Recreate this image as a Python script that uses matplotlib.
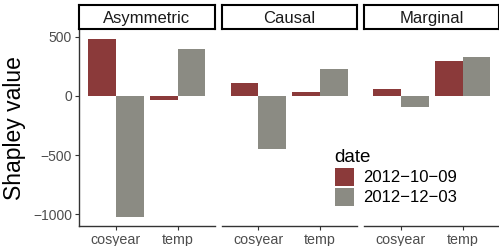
import matplotlib
matplotlib.use("Agg")
import matplotlib.pyplot as plt
from matplotlib.patches import Patch
import numpy as np

plt.rcParams['font.family'] = ['Liberation Sans', 'DejaVu Sans']

methods = ["Asymmetric", "Causal", "Marginal"]
features = ["cosyear", "temp"]
dates = ["2012\u221210\u221209", "2012\u221212\u221203"]
colors = ["#8B3A3A", "#8B8B83"]
# values[method][date] -> [cosyear, temp]
asym_d1 = [481, -34]
asym_d2 = [-1023, 397]
causal_d1 = [110, 34]
causal_d2 = [-445, 228]
marg_d1 = [59, 296]
marg_d2 = [-93, 330]
values = [[asym_d1, asym_d2], [causal_d1, causal_d2], [marg_d1, marg_d2]]
yticks = [500, 0, -500, -1000]
ytick_labels = ["500", "0", "\u2212500", "\u22121000"]

W, H = 499, 246
fig = plt.figure(figsize=(W / 100, H / 100), dpi=100)

def fx(px):
    return px / W

def fy(py):
    return 1 - py / H

panel_left = [79, 221.5, 364]
panel_w = 135.5
ptop, pbot = 30, 226
stop, sbot = 5, 29

ylim = (-1098, 556)
bw = 0.45
for i, m in enumerate(methods):
    ax = fig.add_axes([fx(panel_left[i]), fy(pbot), fx(panel_w), (pbot - ptop) / H])
    x = np.arange(1, len(features) + 1)
    for j in range(2):
        ax.bar(x + (j - 0.5) * bw, values[i][j], width=bw, color=colors[j], linewidth=0)
    ax.set_xlim(0.4, 2.6)
    ax.set_ylim(*ylim)
    ax.set_xticks(x)
    ax.set_xticklabels(features, fontsize=10.3, color="#4D4D4D")
    for s in ["top", "right"]:
        ax.spines[s].set_visible(False)
    ax.spines["bottom"].set_color("#333333")
    ax.spines["bottom"].set_linewidth(1.0)
    ax.tick_params(axis="x", length=3, width=0.8, color="#333333", pad=2)
    if i == 0:
        ax.spines["left"].set_color("#333333")
        ax.spines["left"].set_linewidth(1.0)
        ax.set_yticks(yticks)
        ax.set_yticklabels(ytick_labels, fontsize=10, color="#4D4D4D")
        ax.tick_params(axis="y", length=3, width=0.8, color="#333333", pad=2)
    else:
        ax.spines["left"].set_visible(False)
        ax.set_yticks([])
    # strip
    sax = fig.add_axes([fx(panel_left[i]), fy(sbot), fx(panel_w), (sbot - stop) / H])
    sax.set_xticks([]); sax.set_yticks([])
    for s in sax.spines.values():
        s.set_linewidth(1.5)
        s.set_color("black")
    sax.text(0.5, 0.45, m, ha="center", va="center", fontsize=12, color="#1A1A1A",
             transform=sax.transAxes)

fig.text(fx(15), fy(128), "Shapley value", rotation=90, ha="center", va="center",
         fontsize=16.5, color="black")

handles = [Patch(facecolor=colors[k], edgecolor="none", label=dates[k]) for k in range(2)]
leg = fig.legend(handles=handles, title="date", loc="upper left",
                 bbox_to_anchor=(fx(323), fy(137)), frameon=False,
                 fontsize=12, title_fontsize=13.5, handlelength=1.14,
                 handleheight=1.285, handletextpad=0.55, labelspacing=0.12,
                 borderpad=0.2, alignment="left")

fig.savefig("out.png", dpi=100)
